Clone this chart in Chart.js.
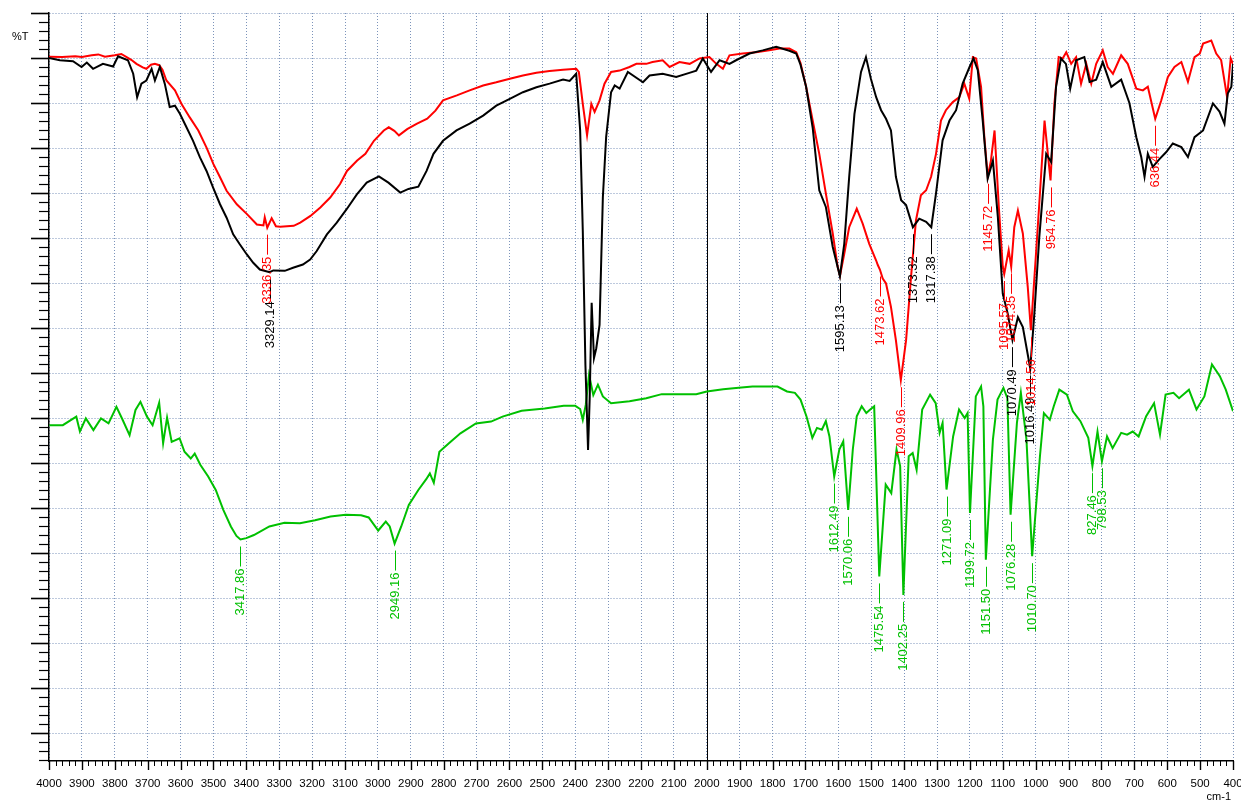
<!DOCTYPE html>
<html lang="en">
<head>
<meta charset="UTF-8">
<title>IR spectra</title>
<script src="https://cdn.jsdelivr.net/npm/chart.js"></script>
<style>
  html, body { margin: 0; padding: 0; background: #fff; }
  canvas { display: block; }
</style>
</head>
<body>
<canvas id="ir" width="1241" height="800"></canvas>
<script>
// wavenumber (cm-1) and stacked %T values for each trace
const blackWn = [4000,3967,3927,3901,3885,3866,3836,3805,3790,3760,3744,3732,3719,3704,3688,3678,3663,3648,3633,3617,
  3602,3582,3562,3541,3521,3501,3480,3460,3440,3420,3399,3379,3359,3329.14,3318,3283,3258,3228,3206,3186,
  3155,3125,3095,3064,3034,2997,2968,2932,2907,2877,2852,2831,2802,2761,2721,2680,2640,2599,2559,2518,
  2478,2437,2417,2397,2385,2377,2369,2361,2356,2350,2343,2336,2326,2316,2306,2291,2280,2265,2240,2194,
  2174,2134,2093,2053,2032,2012,1987,1961,1931,1911,1870,1830,1789,1749,1728,1715,1698,1678,1658,1638,
  1617,1595.13,1582,1567,1551,1531,1516,1501,1485,1470,1455,1440,1425,1409,1394,1373.32,1354,1333,1317.38,1303,
  1283,1262,1242,1222,1201,1189,1176,1161,1146,1130,1115,1100,1085,1070.49,1054,1039,1016.49,1004,989,968,
  953,938,923,908,895,877,852,836,816,796,770,740,715,694,679,669,659,644,623,603,
  583,557,537,517,491,461,441,426,416,405,400];
const blackT = [150.0,149.5,149.3,148.0,149.0,147.6,148.7,148.1,150.4,149.5,146.5,141.3,144.3,145.0,147.6,145.0,148.0,144.3,139.1,139.4,
  137.6,134.6,131.6,127.9,124.9,121.2,117.5,114.5,110.8,108.6,106.4,104.5,103.0,102.4,102.8,102.7,103.4,104.1,105.2,107.1,
  110.8,113.4,116.4,119.7,122.3,123.7,122.3,120.1,120.9,121.4,124.9,128.7,131.6,133.9,135.4,137.2,139.4,140.9,142.4,143.5,
  144.3,145.2,144.9,146.5,133.9,111.6,81.8,62.9,74.4,95.6,83.3,85.5,90.7,119.0,132.4,142.4,143.9,143.2,146.9,144.6,
  146.1,146.5,145.8,146.7,147.2,149.9,146.9,149.5,148.7,149.5,151.0,151.7,152.5,151.6,151.0,148.5,143.6,134.5,120.6,116.9,
  108.0,101.5,108.7,123.6,137.6,146.9,150.2,145.4,141.3,138.4,136.5,133.9,123.6,118.4,117.3,112.4,114.3,113.6,112.4,119.9,
  131.7,136.1,138.4,144.3,148.0,149.9,147.3,136.1,123.2,127.2,114.7,97.6,93.2,87.3,92.4,90.2,81.0,93.2,110.2,128.7,
  126.9,143.6,149.9,148.7,143.2,149.5,150.2,144.7,145.2,149.1,143.6,145.2,140.0,132.4,128.0,123.6,128.7,125.8,127.6,129.1,
  131.0,130.2,128.0,132.4,133.9,139.9,138.1,135.4,142.1,143.6,148.7];

const redWn = [4000,3960,3920,3900,3870,3850,3830,3800,3780,3764,3750,3734,3715,3704,3690,3678,3665,3655,3643,3617,
  3597,3572,3546,3521,3500,3480,3460,3429,3398,3368,3348,3344,3336.35,3323,3310,3297,3256,3236,3205,3175,
  3145,3115,3094,3063,3038,3012,2982,2967,2950,2936,2911,2881,2850,2825,2802,2760,2721,2680,2640,2599,
  2559,2518,2478,2437,2397,2389,2377,2364,2351,2341,2326,2311,2291,2265,2235,2214,2184,2165,2134,2113,
  2083,2052,2022,1992,1971,1951,1931,1891,1850,1810,1779,1749,1728,1715,1698,1678,1658,1638,1617,1602,
  1595,1582,1567,1544,1526,1506,1485,1480,1473.62,1465,1455,1440,1425,1409.96,1394,1379,1364,1349,1333,1318,
  1303,1288,1273,1252,1232,1217,1202,1191,1181,1166,1156,1145.72,1136,1125,1112,1100,1095.57,1082,1074.35,1065,
  1054,1039,1024,1014.56,999,989,973,963,954.76,943,930,918,907,892,877,862,846,831,816,796,
  781,765,740,720,694,674,659,636.44,618,598,578,557,537,517,501,491,466,451,436,418,
  407,400];
const redT = [150.3,150.2,150.4,150.2,150.6,150.8,150.3,150.6,150.9,150.2,149.6,148.7,147.9,147.6,148.5,148.7,148.4,147.4,145.0,142.8,
  139.8,136.8,133.9,130.1,126.4,123.5,120.5,117.5,115.3,113.0,112.8,114.6,112.3,114.4,112.6,112.5,112.7,113.4,114.9,116.8,
  119.0,122.0,124.9,127.2,128.7,131.6,133.9,134.6,133.8,132.8,134.2,135.4,136.5,138.3,140.6,141.7,142.8,143.9,144.6,145.4,
  146.1,146.7,147.1,147.4,147.6,146.9,139.8,132.8,139.8,138.0,140.6,144.3,146.9,147.2,148.0,148.7,148.7,149.1,149.5,148.0,
  149.1,148.7,149.9,150.2,148.7,147.6,150.6,151.0,151.3,151.7,152.1,152.1,151.3,148.9,143.6,136.1,128.7,119.9,111.0,103.6,
  101.6,106.5,112.4,116.5,113.2,108.7,105.0,104.0,103.0,101.0,99.9,94.7,87.3,78.4,87.3,101.3,113.9,119.5,120.6,123.6,
  128.7,136.1,138.4,140.2,141.3,144.3,141.0,150.2,149.9,143.6,132.4,123.6,127.2,133.9,116.9,103.6,102.0,107.3,103.6,112.4,
  116.1,111.0,99.1,89.5,106.5,117.6,136.1,128.7,122.8,139.9,150.2,149.9,151.3,148.7,150.2,144.3,148.7,144.3,148.7,151.7,
  148.0,146.5,150.6,148.7,143.2,142.8,143.6,136.5,140.6,145.8,148.0,149.1,144.7,150.2,151.0,153.2,153.9,151.0,149.5,141.3,
  149.9,148.7];

const greenWn = [3999,3958,3917,3906,3888,3865,3842,3819,3795,3778,3755,3737,3722,3702,3685,3665,3653,3641,3627,3603,
  3588,3569,3557,3540,3516,3493,3470,3447,3430,3417.86,3400,3377,3330,3284,3237,3191,3144,3098,3051,3028,
  2999,2976,2964,2949.16,2929,2906,2877,2853,2842,2830,2813,2784,2749,2702,2656,2621,2563,2493,2435,2400,
  2385,2377,2368,2358,2345,2331,2316,2291,2235,2184,2137,2083,2032,2000,1950,1903,1861,1820,1785,1756,
  1732,1715,1697,1679,1665,1650,1638,1627,1612.49,1597,1585,1570.06,1556,1544,1529,1515,1503,1491,1475.54,1456,
  1439,1423,1412,1402.25,1386,1374,1362,1345,1321,1304,1292,1283,1271.09,1251,1233,1216,1207,1199.72,1182,1166,
  1159,1151.50,1130,1116,1098,1086,1076.28,1057,1045,1028,1010.70,987,975,957,945,928,905,887,864,840,
  827.46,812,798.53,783,766,740,722,705,687,664,640,622,605,581,564,534,511,487,464,440,
  422,400];
const greenT = [68.4,68.4,70.3,67.0,69.9,67.3,69.9,68.8,72.5,69.9,66.2,71.8,73.6,70.3,68.4,73.4,64.4,70.1,64.7,65.5,
  62.5,61.0,62.1,59.6,57.0,54.0,49.6,45.9,43.8,43.0,43.3,44.0,45.9,46.7,46.6,47.3,48.1,48.5,48.4,47.9,
  45.0,47.0,45.9,42.1,45.9,50.7,54.0,56.4,57.7,55.6,62.5,64.4,66.6,68.8,69.2,70.3,71.6,72.1,72.7,72.7,
  72.0,69.6,72.9,79.6,75.1,77.4,74.8,73.3,73.7,74.4,75.3,75.3,75.3,75.9,76.4,76.7,77.0,77.0,77.0,75.9,
  75.6,74.1,70.4,65.6,67.8,67.4,69.3,65.9,57.0,63.0,64.8,49.6,63.0,70.4,72.6,71.1,71.9,72.6,34.8,55.2,
  53.3,63.0,59.3,30.7,61.5,62.2,58.5,71.9,75.2,73.3,66.7,68.9,54.1,65.9,71.9,70.0,71.1,48.9,74.8,77.0,
  72.6,38.5,65.2,74.1,76.7,74.4,48.5,68.9,75.6,65.2,39.3,61.5,71.1,69.6,72.6,76.3,75.2,71.5,69.3,65.6,
  59.3,67.0,60.4,65.9,63.3,66.7,66.3,67.0,65.9,70.4,73.3,66.3,75.2,75.6,74.4,76.3,71.9,74.8,81.9,79.3,
  76.3,71.5];

// picked peaks, labelled under each band
const blackPeaks = [3329.14, 1595.13, 1373.32, 1317.38, 1070.49, 1016.49];
const redPeaks = [3336.35, 1473.62, 1409.96, 1145.72, 1095.57, 1074.35, 1014.56, 954.76, 636.44];
const greenPeaks = [3417.86, 2949.16, 1612.49, 1570.06, 1475.54, 1402.25, 1271.09, 1199.72, 1151.50,
  1076.28, 1010.70, 827.46, 798.53];

const FONT = '"Liberation Sans", Arial, sans-serif';
const GRID = '#7b93ba';

const toPoints = (wn, t) => wn.map((w, i) => ({ x: w, y: t[i] }));

// peak markers: short leader below the band, value written vertically
const peakLabels = {
  id: 'peakLabels',
  afterDatasetsDraw(chart) {
    const ctx = chart.ctx;
    ctx.save();
    ctx.font = '13px ' + FONT;
    ctx.textAlign = 'right';
    ctx.textBaseline = 'middle';
    chart.data.datasets.forEach((ds, di) => {
      const meta = chart.getDatasetMeta(di);
      ds.peaks.forEach(wn => {
        const idx = ds.data.findIndex(p => p.x === wn);
        if (idx < 0) return;
        const pt = meta.data[idx];
        const x = Math.round(pt.x) + 0.5;
        const y0 = pt.y + 7, y1 = y0 + 20;
        ctx.strokeStyle = ds.borderColor;
        ctx.lineWidth = 1;
        ctx.beginPath();
        ctx.moveTo(x, y0);
        ctx.lineTo(x, y1);
        ctx.stroke();
        ctx.save();
        ctx.translate(x, y1 + 2);
        ctx.rotate(-Math.PI / 2);
        ctx.fillStyle = ds.borderColor;
        ctx.fillText(wn.toFixed(2), 0, 0);
        ctx.restore();
      });
    });
    ctx.restore();
  }
};

// axis furniture: minor/major tick marks, 2000 cm-1 divider, unit captions
const axisDecor = {
  id: 'axisDecor',
  beforeDatasetsDraw(chart) {
    const { ctx, chartArea: a, scales: { x } } = chart;
    const px = Math.round(x.getPixelForValue(2000)) + 0.5;
    ctx.save();
    ctx.strokeStyle = '#000';
    ctx.lineWidth = 1;
    ctx.beginPath();
    ctx.moveTo(px, a.top);
    ctx.lineTo(px, a.bottom);
    ctx.stroke();
    ctx.restore();
  },
  afterDraw(chart) {
    const { ctx, chartArea: a, scales: { x, y } } = chart;
    ctx.save();
    ctx.strokeStyle = '#000';
    for (let v = -6; v <= 160; v += 2) {
      const py = Math.round(y.getPixelForValue(v)) + 0.5;
      const major = v % 10 === 0;
      ctx.lineWidth = major ? 1.6 : 1.2;
      ctx.beginPath();
      ctx.moveTo(a.left - (major ? 18 : 10), py);
      ctx.lineTo(a.left, py);
      ctx.stroke();
    }
    for (let v = 400; v <= 4000; v += 20) {
      const px = Math.round(x.getPixelForValue(v)) + 0.5;
      const major = v % 100 === 0;
      ctx.lineWidth = major ? 1.4 : 1;
      ctx.beginPath();
      ctx.moveTo(px, a.bottom);
      ctx.lineTo(px, a.bottom + (major ? 9 : 5));
      ctx.stroke();
    }
    ctx.fillStyle = '#000';
    ctx.font = '11px ' + FONT;
    ctx.textAlign = 'left';
    ctx.textBaseline = 'middle';
    ctx.fillText('%T', 12, 37);
    ctx.textAlign = 'right';
    ctx.fillText('cm-1', 1231, 797);
    ctx.restore();
  }
};

new Chart(document.getElementById('ir'), {
  type: 'line',
  data: {
    datasets: [
      { label: 'black', data: toPoints(blackWn, blackT), peaks: blackPeaks, borderColor: '#000000' },
      { label: 'red', data: toPoints(redWn, redT), peaks: redPeaks, borderColor: '#ff0000' },
      { label: 'green', data: toPoints(greenWn, greenT), peaks: greenPeaks, borderColor: '#00c000' }
    ]
  },
  options: {
    responsive: false,
    animation: false,
    devicePixelRatio: 1,
    layout: { padding: { top: 13, right: 8, left: 0, bottom: 0 } },
    elements: {
      line: { borderWidth: 2, tension: 0, fill: false },
      point: { radius: 0, hoverRadius: 0 }
    },
    plugins: { legend: { display: false }, tooltip: { enabled: false } },
    scales: {
      x: {
        type: 'linear',
        reverse: true,
        min: 400,
        max: 4000,
        afterBuildTicks: s => {
          s.ticks = [];
          for (let v = 4000; v >= 400; v -= 100) s.ticks.push({ value: v });
        },
        afterFit: s => { s.height = 39; s.paddingLeft = 0; s.paddingRight = 0; },
        ticks: {
          autoSkip: false, maxRotation: 0, padding: 16, color: '#000',
          font: { family: FONT, size: 11.5 },
          callback: v => String(v)
        },
        grid: { color: GRID, lineWidth: 1, drawTicks: false },
        border: { display: true, color: '#000', width: 1.5, dash: [1, 2] }
      },
      y: {
        type: 'linear',
        min: -6.22,
        max: 160,
        afterBuildTicks: s => {
          s.ticks = [];
          for (let v = 0; v <= 160; v += 10) s.ticks.push({ value: v });
        },
        afterFit: s => { s.width = 49; s.paddingTop = 0; s.paddingBottom = 0; },
        ticks: { display: false },
        grid: { color: GRID, lineWidth: 1, drawTicks: false },
        border: { display: true, color: '#000', width: 1.5, dash: [1, 2] }
      }
    }
  },
  plugins: [axisDecor, peakLabels]
});
</script>
</body>
</html>
